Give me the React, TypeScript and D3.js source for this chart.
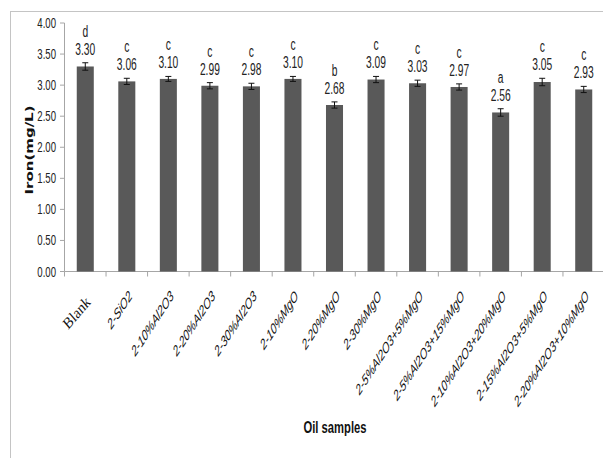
import React from "react";
import * as d3 from "d3";

const categories = [
  "Blank",
  "2-SiO2",
  "2-10%Al2O3",
  "2-20%Al2O3",
  "2-30%Al2O3",
  "2-10%MgO",
  "2-20%MgO",
  "2-30%MgO",
  "2-5%Al2O3+5%MgO",
  "2-5%Al2O3+15%MgO",
  "2-10%Al2O3+20%MgO",
  "2-15%Al2O3+5%MgO",
  "2-20%Al2O3+10%MgO",
];
const values = [3.3, 3.06, 3.1, 2.99, 2.98, 3.1, 2.68, 3.09, 3.03, 2.97, 2.56, 3.05, 2.93];
const errors = [0.06, 0.05, 0.04, 0.05, 0.05, 0.04, 0.05, 0.05, 0.05, 0.05, 0.06, 0.06, 0.05];
const letters = ["d", "c", "c", "c", "c", "c", "b", "c", "c", "c", "a", "c", "c"];
const yTicks = [0, 0.5, 1, 1.5, 2, 2.5, 3, 3.5, 4];
const yTitle = "Iron(mg/L)";
const xTitle = "Oil samples";

const W = 603;
const H = 458;
const SQ = 0.64;

export default function App() {
  const x = d3
    .scaleBand<string>()
    .domain(categories)
    .range([64.5, 604.5])
    .paddingInner(0.59)
    .paddingOuter(0.295);
  const y = d3.scaleLinear().domain([0, 4]).range([271.5, 23]);
  const step = x.step();
  const fmt = d3.format(".2f");
  const sans = "'Liberation Sans', Arial, sans-serif";

  return (
    <svg
      width={W}
      height={H}
      style={{ position: "absolute", left: 0, top: 0, background: "#fff" }}
    >
      <rect x={10.5} y={11.5} width={640} height={500} fill="#fff" stroke="#c4c4c4" strokeWidth={1} />

      {/* y axis */}
      <line x1={64.5} x2={64.5} y1={y(4)} y2={y(0)} stroke="#a6a6a6" />
      {yTicks.map((t) => (
        <g key={t}>
          <line x1={60} x2={64.5} y1={y(t)} y2={y(t)} stroke="#a6a6a6" />
          <text
            transform={`translate(56,${y(t) + 5}) scale(${SQ},1)`}
            textAnchor="end"
            fontFamily={sans}
            fontSize={15}
            fill="#222"
          >
            {fmt(t)}
          </text>
        </g>
      ))}

      {/* x axis */}
      <line x1={64.5} x2={W} y1={y(0)} y2={y(0)} stroke="#a6a6a6" />
      {d3.range(categories.length + 1).map((i) => (
        <line
          key={i}
          x1={64.5 + i * step}
          x2={64.5 + i * step}
          y1={y(0)}
          y2={y(0) + 5}
          stroke="#a6a6a6"
        />
      ))}

      {/* bars */}
      {categories.map((c, i) => {
        const bx = x(c)!;
        const bw = x.bandwidth();
        const cx = bx + bw / 2;
        const v = values[i];
        const e = errors[i];
        const labY = y(v + e) - 8;
        const isBlank = i === 0;
        return (
          <g key={c}>
            <rect x={bx} y={y(v)} width={bw} height={y(0) - y(v)} fill="#595959" />
            <line x1={cx} x2={cx} y1={y(v + e)} y2={y(v - e)} stroke="#111" strokeWidth={1} />
            <line x1={cx - 3} x2={cx + 3} y1={y(v + e)} y2={y(v + e)} stroke="#111" strokeWidth={1} />
            <line x1={cx - 3} x2={cx + 3} y1={y(v - e)} y2={y(v - e)} stroke="#111" strokeWidth={1} />
            <text
              transform={`translate(${cx},${labY}) scale(${SQ},1)`}
              textAnchor="middle"
              fontFamily={sans}
              fontSize={16}
              fill="#222"
            >
              {fmt(v)}
            </text>
            <text
              transform={`translate(${cx},${labY - 18}) scale(${SQ},1)`}
              textAnchor="middle"
              fontFamily={sans}
              fontSize={16}
              fill="#222"
            >
              {letters[i]}
            </text>
            <text
              transform={
                isBlank
                  ? `translate(${cx + 6},303) scale(0.85,1) rotate(-45)`
                  : `translate(${cx + 6},297) scale(0.65,1) rotate(-45)`
              }
              textAnchor="end"
              fontFamily={isBlank ? "'Liberation Serif', 'Times New Roman', serif" : sans}
              fontStyle={isBlank ? "normal" : "italic"}
              fontSize={isBlank ? 16 : 15}
              fill="#111"
            >
              {c}
            </text>
          </g>
        );
      })}

      {/* titles */}
      <text
        transform={`translate(30,150) scale(0.65,1) rotate(-90)`}
        textAnchor="middle"
        dominantBaseline="central"
        fontFamily="'DejaVu Sans', Verdana, sans-serif"
        fontWeight="bold"
        fontSize={15}
        fill="#111"
      >
        {yTitle}
      </text>
      <text
        transform={`translate(335,433) scale(0.66,1)`}
        textAnchor="middle"
        fontFamily={sans}
        fontWeight="bold"
        fontSize={17}
        fill="#111"
      >
        {xTitle}
      </text>
    </svg>
  );
}
